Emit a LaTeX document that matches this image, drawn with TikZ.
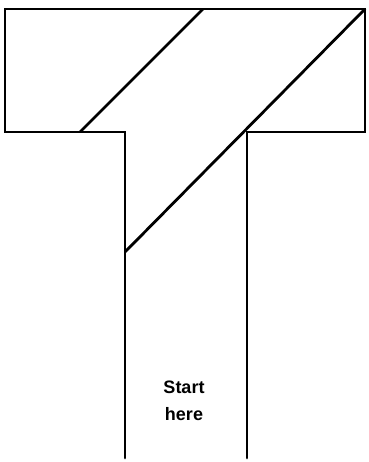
\documentclass[tikz,border=0pt]{standalone}
\usepackage{fontspec}
\setmainfont{Liberation Sans}
\usetikzlibrary{positioning}
\tikzset{
  tee line/.style={line width=2.8pt,line cap=round,line join=miter},
  start label/.style={align=center,font=\bfseries\fontsize{18}{27}\selectfont}
}

\begin{document}
\begin{tikzpicture}[x=1pt,y=-1pt]

        \useasboundingbox (0,0) rectangle (368,462);

        % outline of the T
        \draw[tee line]
          (125,458) -- (125,132) -- (5,132) -- (5,9)
          -- (365,9) -- (365,132) -- (247,132) -- (247,458);

        % the two slanted cuts
        \draw[tee line] (203,9) -- (80,132);
        \draw[tee line] (365,9) -- (125,252);

        \node[start label] (start) at (184,401) {Start\\here};

      \end{tikzpicture}
\end{document}
